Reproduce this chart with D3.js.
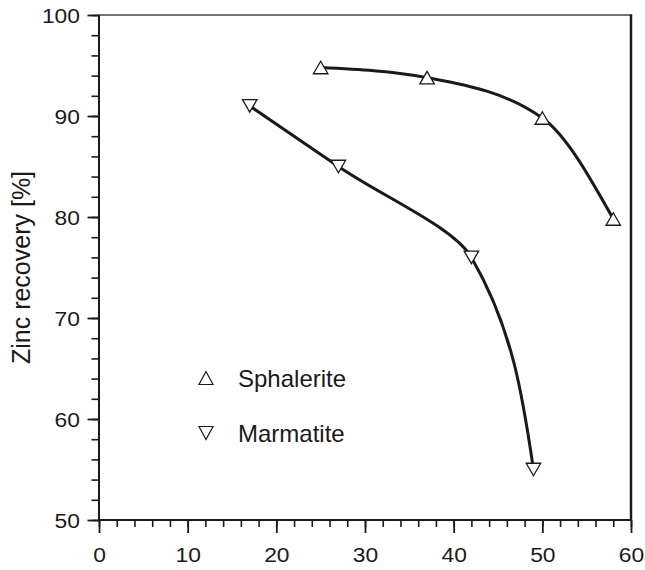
<!DOCTYPE html>
<html>
<head>
<meta charset="utf-8">
<script src="https://cdn.jsdelivr.net/npm/d3@7"></script>
<style>
  html, body { margin: 0; padding: 0; background: #fff; }
  svg { display: block; }
  text { font-family: "Liberation Sans", Arial, Helvetica, sans-serif; fill: #1a1a1a; }
</style>
</head>
<body>
<svg id="chart" width="645" height="570"></svg>
<script>
// ---- data ----
const sphaleriteX = [25, 37, 50, 58];
const sphaleriteY = [94.8, 93.8, 89.8, 79.8];
const marmatiteX = [17, 27, 42, 49];
const marmatiteY = [91.0, 85.0, 76.0, 55.0];
const seriesNames = ["Sphalerite", "Marmatite"];
const xTicks = [0, 10, 20, 30, 40, 50, 60];
const yTicks = [50, 60, 70, 80, 90, 100];
const xMinorTicks = d3.range(0, 61, 2);
const yMinorTicks = d3.range(50, 101, 2);
const yAxisTitle = "Zinc recovery [%]";

// ---- layout ----
const svg = d3.select("#chart");
const pLeft = 99, pRight = 631, pTop = 15, pBottom = 520;
const x = d3.scaleLinear().domain([0, 60]).range([pLeft, pRight]);
const y = d3.scaleLinear().domain([50, 100]).range([pBottom, pTop]);
const ink = "#1a1a1a";
const labelStretch = 1.17;

// minor ticks
svg.append("g").attr("transform", `translate(0,${pBottom})`)
  .call(d3.axisBottom(x).tickValues(xMinorTicks).tickSize(7).tickFormat(""))
  .call(g => g.select(".domain").remove())
  .call(g => g.selectAll("line").attr("stroke", ink).attr("stroke-width", 1.6));
svg.append("g").attr("transform", `translate(${pLeft},0)`)
  .call(d3.axisLeft(y).tickValues(yMinorTicks).tickSize(7.5).tickFormat(""))
  .call(g => g.select(".domain").remove())
  .call(g => g.selectAll("line").attr("stroke", ink).attr("stroke-width", 1.6));

// major ticks + labels
const xAxis = svg.append("g").attr("transform", `translate(0,${pBottom})`)
  .call(d3.axisBottom(x).tickValues(xTicks).tickSize(13).tickPadding(0))
  .call(g => g.select(".domain").remove())
  .call(g => g.selectAll("line").attr("stroke", ink).attr("stroke-width", 1.8));
xAxis.selectAll("text")
  .attr("y", 0).attr("dy", null)
  .attr("transform", `translate(0,42) scale(${labelStretch},1)`)
  .attr("font-size", 19.5).style("font-family", "'Liberation Sans', Arial, sans-serif")
  .attr("fill", ink);

const yAxis = svg.append("g").attr("transform", `translate(${pLeft},0)`)
  .call(d3.axisLeft(y).tickValues(yTicks).tickSize(11.5).tickPadding(0))
  .call(g => g.select(".domain").remove())
  .call(g => g.selectAll("line").attr("stroke", ink).attr("stroke-width", 1.8));
yAxis.selectAll("text")
  .attr("x", 0).attr("dy", "0.36em")
  .attr("transform", `translate(-19,0) scale(${labelStretch},1)`)
  .attr("font-size", 19.5).style("font-family", "'Liberation Sans', Arial, sans-serif")
  .attr("fill", ink);

// frame
svg.append("line").attr("x1", pLeft).attr("x2", pRight).attr("y1", pTop).attr("y2", pTop)
  .attr("stroke", "#444").attr("stroke-width", 1.5);
svg.append("line").attr("x1", pRight).attr("x2", pRight).attr("y1", pTop - 0.75).attr("y2", pBottom)
  .attr("stroke", ink).attr("stroke-width", 2.5);
svg.append("line").attr("x1", pLeft).attr("x2", pLeft).attr("y1", pTop).attr("y2", pBottom + 1)
  .attr("stroke", ink).attr("stroke-width", 2);
svg.append("line").attr("x1", pLeft - 1).attr("x2", pRight + 1).attr("y1", pBottom).attr("y2", pBottom)
  .attr("stroke", ink).attr("stroke-width", 2);

// y axis title
svg.append("text")
  .attr("transform", `translate(30,${(pTop + pBottom) / 2}) rotate(-90)`)
  .attr("text-anchor", "middle")
  .attr("font-size", 25)
  .text(yAxisTitle);

// curves
const sph = sphaleriteX.map((d, i) => [d, sphaleriteY[i]]);
const mar = marmatiteX.map((d, i) => [d, marmatiteY[i]]);
const lineX = d3.line().x(d => x(d[0])).y(d => y(d[1])).curve(d3.curveMonotoneX);
const lineY = d3.line().x(d => x(d[0])).y(d => y(d[1])).curve(d3.curveMonotoneY);
svg.append("path").attr("d", lineX(sph)).attr("fill", "none")
  .attr("stroke", ink).attr("stroke-width", 3).attr("stroke-linecap", "round");
svg.append("path").attr("d", lineY(mar)).attr("fill", "none")
  .attr("stroke", ink).attr("stroke-width", 3).attr("stroke-linecap", "round");

// markers
function tri(cx, cy, up, w, h) {
  const hw = w / 2, hh = h / 2;
  return up
    ? `M${cx},${cy - hh}L${cx + hw},${cy + hh}L${cx - hw},${cy + hh}Z`
    : `M${cx},${cy + hh}L${cx + hw},${cy - hh}L${cx - hw},${cy - hh}Z`;
}
svg.append("g").selectAll("path").data(sph).join("path")
  .attr("d", d => tri(x(d[0]), y(d[1]), true, 14.5, 12.5))
  .attr("fill", "#fff").attr("stroke", ink).attr("stroke-width", 1.3);
svg.append("g").selectAll("path").data(mar).join("path")
  .attr("d", d => tri(x(d[0]), y(d[1]), false, 14.5, 12.5))
  .attr("fill", "#fff").attr("stroke", ink).attr("stroke-width", 1.3);

// legend
const legend = svg.append("g");
[0, 1].forEach(i => {
  const ly = 378 + i * 55;
  legend.append("path").attr("d", tri(206, ly, i === 0, 14, 13))
    .attr("fill", "none").attr("stroke", ink).attr("stroke-width", 1.2);
  legend.append("text").attr("x", 238).attr("y", ly + 8.5)
    .attr("font-size", 24).text(seriesNames[i]);
});
</script>
</body>
</html>
